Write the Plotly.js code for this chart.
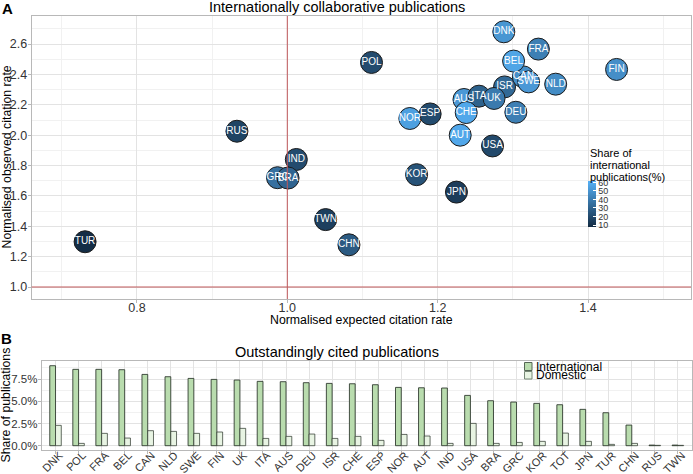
<!DOCTYPE html>
<html>
<head>
<meta charset="utf-8">
<script src="https://cdn.plot.ly/plotly-3.0.1.min.js"></script>
<style>html,body{margin:0;padding:0;background:#fff;}#chart{width:693px;height:474px;}</style>
</head>
<body>
<div id="chart"></div>
<script>
// ---- Panel A data ----
const countries = ['TUR','CHN','TWN','JPN','KOR','RUS','USA','POL','ESP','IND','GRC','BRA','AUS','ITA','ISR','UK','DEU','FRA','NOR','FIN','CAN','SWE','NLD','CHE','AUT','BEL','DNK'];
const expectedRate = [0.731,1.082,1.051,1.225,1.172,0.933,1.273,1.112,1.190,1.012,0.987,1.001,1.235,1.255,1.289,1.275,1.304,1.334,1.163,1.438,1.314,1.321,1.357,1.238,1.230,1.301,1.288];
const observedRate = [1.298,1.278,1.444,1.625,1.740,2.026,1.929,2.479,2.140,1.840,1.720,1.718,2.235,2.257,2.318,2.242,2.151,2.567,2.110,2.433,2.384,2.351,2.336,2.149,2.000,2.488,2.681];
const intlShare = [9,27,16,15,24,18,20,21,21,21,36,31,52,30,33,40,42,42,55,48,48,52,47,58,58,57,51];
const colorTicks = [10,20,30,40,50,60];
const colorTitleLines = ['Share of','international','publications(%)'];
const refValue = 1.0;

// ---- Panel B data ----
const barCountries = ['DNK','POL','FRA','BEL','CAN','NLD','SWE','FIN','UK','ITA','AUS','DEU','ISR','CHE','ESP','NOR','AUT','IND','USA','BRA','GRC','KOR','TOT','JPN','TUR','CHN','RUS','TWN'];
const intlPct = [9.0,8.59,8.59,8.55,8.02,7.76,7.57,7.46,7.39,7.24,7.20,7.09,7.01,6.97,6.86,6.56,6.52,6.49,5.66,5.06,4.91,4.76,4.61,4.09,3.71,2.32,0.07,0.07];
const domPct = [2.29,0.26,1.39,0.86,1.69,1.61,1.39,1.54,1.95,0.82,1.05,1.31,0.82,1.05,0.60,1.27,1.09,0.26,2.51,0.26,0.37,0.49,1.42,0.49,0.15,0.26,0.04,0.04];
const seriesNames = ['International','Domestic'];

const W = 693, H = 474;
const px = v => v / W;
const py = v => 1 - v / H;
const FONT = 'Liberation Sans, Arial, Helvetica, sans-serif';
const GRID = '#e3e3e3', MINOR = '#f1f1f1', BORDER = '#b8b8b8', TICKC = '#333333';
const intlColor = '#b9dcae', domColor = '#e8f4e3';

const scatter = {
  type: 'scatter', mode: 'markers+text',
  x: expectedRate, y: observedRate, text: countries,
  xaxis: 'x', yaxis: 'y',
  textposition: 'middle center',
  textfont: {family: FONT, size: 10, color: '#ffffff'},
  marker: {
    size: 22, color: intlShare, cmin: 8, cmax: 62,
    colorscale: [[0,'#132B43'],[1,'#56B1F7']],
    line: {color: '#1c1c1c', width: 1},
    colorbar: {
      x: px(588.3), xanchor: 'left', y: py(203.7), yanchor: 'middle',
      len: 46, lenmode: 'pixels', thickness: 8.3, thicknessmode: 'pixels',
      outlinewidth: 0, xpad: 0, ypad: 0,
      tickvals: colorTicks, ticks: 'inside', ticklen: 3, tickcolor: '#ffffff',
      tickfont: {family: FONT, size: 9, color: TICKC}
    }
  },
  hoverinfo: 'text', showlegend: false, cliponaxis: false
};

const barIntl = {
  type: 'bar', x: barCountries, y: intlPct, name: seriesNames[0],
  xaxis: 'x2', yaxis: 'y2',
  marker: {color: intlColor, line: {color: 'rgba(40,50,40,0.85)', width: 1}},
  showlegend: false
};
const barDom = {
  type: 'bar', x: barCountries, y: domPct, name: seriesNames[1],
  xaxis: 'x2', yaxis: 'y2',
  marker: {color: domColor, line: {color: 'rgba(40,50,40,0.7)', width: 1}},
  showlegend: false
};

const axisCommon = {
  showline: true, mirror: true, linecolor: BORDER, linewidth: 1,
  gridcolor: GRID, gridwidth: 1, zeroline: false,
  ticks: 'outside', ticklen: 3, tickcolor: BORDER,
  tickfont: {family: FONT, size: 12.5, color: TICKC}
};

const titleAnn = (text, x, y, size, extra) => Object.assign({
  text: text, x: px(x), y: py(y), xref: 'paper', yref: 'paper', showarrow: false,
  xanchor: 'center', yanchor: 'middle', font: {family: FONT, size: size, color: '#000'}
}, extra || {});

const layout = {
  width: W, height: H,
  margin: {l: 0, r: 0, t: 0, b: 0},
  paper_bgcolor: '#ffffff', plot_bgcolor: '#ffffff',
  font: {family: FONT},
  barmode: 'group', bargap: 0.5, bargroupgap: 0,
  showlegend: false,
  xaxis: Object.assign({}, axisCommon, {
    domain: [px(31.7), px(691)], anchor: 'y', range: [0.66, 1.537],
    tick0: 0, dtick: 0.2, tickformat: '.1f', ticklabelstandoff: -6,
    minor: {showgrid: true, gridcolor: MINOR, dtick: 0.1, tick0: 0}
  }),
  yaxis: Object.assign({}, axisCommon, {
    domain: [py(299), py(16)], anchor: 'x', range: [0.921, 2.785],
    tick0: 0, dtick: 0.2, tickformat: '.1f', ticklabelstandoff: -2,
    minor: {showgrid: true, gridcolor: MINOR, dtick: 0.1, tick0: 0}
  }),
  xaxis2: Object.assign({}, axisCommon, {
    domain: [px(41.7), px(691.7)], anchor: 'y2', type: 'category',
    range: [-0.6, 27.6], tickangle: -45, ticklabelstandoff: -9, ticklabelshift: 4,
    tickfont: {family: FONT, size: 11, color: TICKC}
  }),
  yaxis2: Object.assign({}, axisCommon, {
    domain: [py(449.7), py(361)], anchor: 'x2', range: [-0.45, 9.53],
    tick0: 0, dtick: 2.5, tickformat: '.1f', ticksuffix: '%', ticklabelstandoff: -2,
    tickfont: {family: FONT, size: 11.5, color: TICKC},
    minor: {showgrid: true, gridcolor: MINOR, dtick: 1.25, tick0: 0}
  }),
  shapes: [
    {type: 'line', xref: 'x', yref: 'y domain', x0: refValue, x1: refValue, y0: 0, y1: 1, line: {color: '#c0585a', width: 1}},
    {type: 'line', xref: 'x domain', yref: 'y', x0: 0, x1: 1, y0: refValue, y1: refValue, line: {color: '#c0585a', width: 1}},
    {type: 'rect', xref: 'paper', yref: 'paper', x0: px(524.5), x1: px(532), y0: py(370.5), y1: py(362.5), fillcolor: intlColor, line: {color: '#556655', width: 1}},
    {type: 'rect', xref: 'paper', yref: 'paper', x0: px(524.5), x1: px(532), y0: py(379), y1: py(371.5), fillcolor: domColor, line: {color: '#778877', width: 1}}
  ],
  annotations: [
    titleAnn('<b>A</b>', 7, 8, 15),
    titleAnn('Internationally collaborative publications', 337, 7.5, 14.5),
    titleAnn('Normalised expected citation rate', 361.5, 319.5, 12.3),
    titleAnn('Normalised observed citation rate', 6, 157.5, 12.3, {textangle: -90}),
    titleAnn('<b>B</b>', 6.5, 338, 15),
    titleAnn('Outstandingly cited publications', 337, 352, 14.5),
    titleAnn('Share of publications', 5.5, 405, 12.3, {textangle: -90}),
    titleAnn(colorTitleLines[0], 587.5, 152.5, 11, {xanchor: 'left'}),
    titleAnn(colorTitleLines[1], 587.5, 165, 11, {xanchor: 'left'}),
    titleAnn(colorTitleLines[2], 587.5, 177.5, 11, {xanchor: 'left'}),
    titleAnn(seriesNames[0], 533.5, 367, 12, {xanchor: 'left'}),
    titleAnn(seriesNames[1], 533.5, 375, 12, {xanchor: 'left'})
  ]
};

Plotly.newPlot('chart', [scatter, barIntl, barDom], layout, {staticPlot: true, displayModeBar: false});
</script>
</body>
</html>
